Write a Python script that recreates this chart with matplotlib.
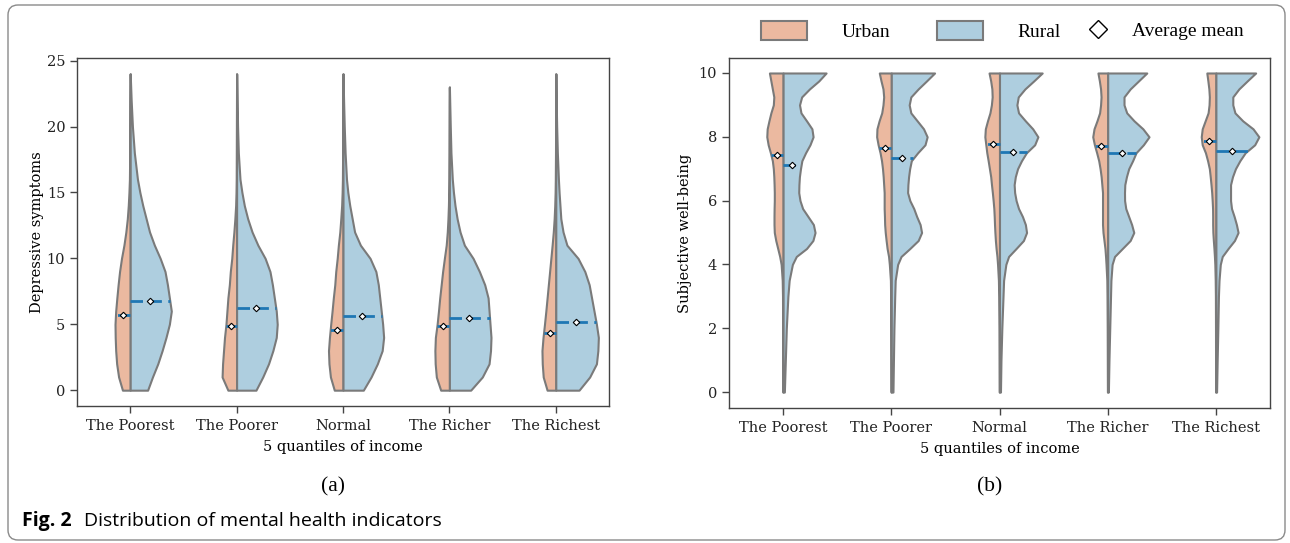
import numpy as np
import matplotlib.pyplot as plt
from matplotlib.patches import Patch, FancyBboxPatch
from matplotlib.lines import Line2D

groups = ['The Poorest', 'The Poorer', 'Normal', 'The Richer', 'The Richest']

# (a) depressive symptoms - relative density of each half at these levels
dep_levels = [0, 1, 2, 3, 4, 5, 6, 7, 8, 9, 10, 11, 12, 13, 14, 15, 16, 18, 20, 22, 24]
dep_top = [24, 24, 24, 23, 24]
dep_urban = [
    [8, 12, 14, 15, 15.5, 15.7, 15, 13.8, 12.5, 11, 9, 6.5, 4.5, 3, 2, 1.3, 0.8, 0.5, 0.3, 0.2, 0],
    [9, 15, 14.5, 13.5, 12.5, 11, 10, 9, 7.5, 6.5, 5, 4, 2.8, 1.8, 1, 0.6, 0.4, 0.3, 0.2, 0.1, 0],
    [9, 13, 14.5, 15, 14, 12.7, 11.3, 10, 8.5, 7.5, 6, 4.8, 3.3, 2.3, 1.4, 0.9, 0.6, 0.4, 0.3, 0.2, 0],
    [9, 13.5, 14.7, 15, 14.5, 12.7, 11.3, 10, 8.5, 7, 5.2, 3.3, 2.2, 1.5, 1, 0.7, 0.5, 0.3, 0.2, 0.1, 0],
    [9, 13, 14, 14.3, 13.2, 11.7, 10.3, 9, 7.7, 6.4, 5.1, 3.8, 2.6, 1.7, 1.1, 0.7, 0.5, 0.3, 0.2, 0.1, 0],
]
dep_rural = [
    [18, 23, 28.5, 33, 37, 40.5, 42.5, 40.5, 38.5, 36, 31, 25, 20, 16.5, 13, 10, 7.5, 4.3, 2.3, 1, 0],
    [20, 27, 33, 37.5, 41, 42, 41, 39, 37, 34.5, 29.5, 22, 16, 11.5, 8, 5.5, 3.5, 1.8, 1, 0.5, 0],
    [21, 29, 35.5, 40.5, 42, 41, 39.5, 38, 36.5, 34, 28, 18, 12, 9.5, 7, 5, 3.6, 2.2, 1.3, 0.6, 0],
    [22, 34, 41, 42.5, 43, 42, 41, 40, 36.5, 31, 24.5, 15.5, 11, 8, 5.8, 4.2, 3, 1.6, 0.9, 0.3, 0],
    [24, 35, 42, 43.5, 44, 42, 39.5, 37, 34.5, 30, 23, 11.5, 7.5, 5.2, 4.3, 3.4, 2.7, 1.6, 0.9, 0.4, 0],
]
dep_urban_mean = [5.7, 4.9, 4.6, 4.85, 4.35]
dep_rural_mean = [6.8, 6.2, 5.6, 5.5, 5.15]

# (b) subjective well-being
swb_levels = [0, 1, 2, 3, 3.5, 4, 4.25, 4.5, 4.75, 5, 5.25, 5.5, 5.75, 6, 6.25, 6.5, 6.75, 7,
              7.25, 7.5, 7.75, 8, 8.25, 8.5, 8.75, 9, 9.25, 9.5, 9.75, 10]
swb_urban = [
    [0.3, 0.4, 0.5, 0.6, 0.9, 2, 3.5, 5.5, 7.5, 9, 9.3, 9.3, 9.2, 9, 9, 9.2, 9.5, 10,
     11, 13, 15.3, 16.7, 16.3, 14.5, 12.5, 10, 9.5, 11, 12.5, 14],
    [0.3, 0.4, 0.5, 0.7, 0.9, 2, 2.8, 4.3, 5.3, 6.2, 6.8, 7, 7.3, 7.3, 7.3, 7.8, 8.3, 9,
     10, 11.5, 13.5, 15, 14.7, 12.5, 9.8, 8.5, 7.8, 8.5, 10.5, 12.3],
    [0.3, 0.4, 0.5, 0.8, 1.1, 2, 2.6, 3.5, 4.2, 4.7, 5.1, 5.4, 5.8, 6.5, 7.3, 8.2, 9, 10.3,
     11.6, 13, 14, 15, 14.5, 12.3, 9.8, 8.3, 7.5, 7.8, 9, 10.7],
    [0.3, 0.4, 0.5, 0.7, 0.9, 1.7, 2.2, 2.8, 3.8, 4.8, 5.3, 5.3, 5.3, 5.3, 5.3, 6, 6.7, 7.8,
     9.2, 11.3, 13.6, 15.3, 14, 11, 8.3, 7.3, 6.8, 7.3, 8.5, 10],
    [0.3, 0.35, 0.4, 0.5, 0.7, 1.1, 1.5, 2, 2.6, 3.1, 3.3, 3.3, 3.4, 3.8, 4.3, 5, 5.8, 6.7,
     8.5, 10.7, 14, 15, 14, 11, 8, 7, 6.7, 7.2, 8.2, 9.3],
]
swb_rural = [
    [1.3, 2.3, 3.3, 4.9, 6.2, 9.5, 13.5, 24, 30.5, 32.7, 31, 25.5, 20, 17.3, 16, 16.2, 16.7, 17.8,
     19.2, 23, 27.5, 30.7, 29.5, 24, 18.3, 16.8, 19, 27, 36.5, 44],
    [1.7, 2.2, 2.7, 3.5, 4, 6.5, 10, 19, 27.5, 31, 29.5, 26, 23, 19, 16.7, 17, 17.7, 18.8,
     20.5, 27, 34.5, 36.7, 33, 26.5, 20, 18.3, 20, 27.5, 36, 44.3],
    [1, 1.5, 2.4, 3.6, 4.2, 6.5, 9.3, 17, 24.5, 27.7, 26.5, 23.5, 19.5, 17, 15.5, 15, 16.2, 18.5,
     22.5, 27.5, 36, 39.3, 34, 26.5, 19.5, 17.8, 19.2, 26, 35, 43.7],
    [0.7, 1.3, 2.1, 2.9, 3.3, 4.5, 7, 15, 23, 26.7, 24.5, 21.5, 18.5, 17.3, 17.2, 17.5, 19.2, 21.5,
     25.5, 29, 36.5, 42.3, 36, 27, 19.5, 16.7, 16.7, 23, 31.5, 40],
    [0.7, 1.3, 2, 2.6, 3.2, 4.5, 6.5, 12.5, 19, 22.7, 21, 18.7, 16, 15, 15, 15, 17, 20,
     24.5, 30, 39.7, 44, 38, 27.5, 19.5, 17.3, 17.3, 23.5, 32, 40.7],
]
swb_urban_mean = [7.43, 7.64, 7.76, 7.72, 7.87]
swb_rural_mean = [7.12, 7.33, 7.51, 7.50, 7.57]

urban_color = '#ebb9a0'
rural_color = '#aecedf'
edge_color = '#7a7a7a'
mean_color = '#1f77b4'
serif = 'DejaVu Serif'


def draw_violins(ax, levels, tops, urban, rural, urban_mean, rural_mean):
    dmax = max(np.max(urban), np.max(rural))
    scale = 0.4 / dmax
    for i in range(len(groups)):
        y = np.array(levels, dtype=float)
        if tops is not None:
            y[-1] = tops[i]
        wu = np.array(urban[i]) * scale
        wr = np.array(rural[i]) * scale
        ax.fill_betweenx(y, i - wu, i, facecolor=urban_color, edgecolor=edge_color,
                         linewidth=1.5, zorder=2)
        ax.fill_betweenx(y, i, i + wr, facecolor=rural_color, edgecolor=edge_color,
                         linewidth=1.5, zorder=2)
        for m, w, sign in [(urban_mean[i], wu, -1), (rural_mean[i], wr, 1)]:
            hw = np.interp(m, y, w)
            ax.plot([i, i + sign * hw], [m, m], color=mean_color, linewidth=2,
                    linestyle=(0, (4.5, 2.3)), dash_capstyle='butt', zorder=3)
            ax.plot(i + sign * hw / 2, m, marker='D', markersize=3.3, markerfacecolor='white',
                    markeredgecolor='black', markeredgewidth=0.8, zorder=4)


def style_axes(ax, ylabel, ypad):
    ax.set_xticks(range(len(groups)))
    ax.set_xticklabels(groups, family=serif, fontsize=10.5)
    for lab in ax.get_yticklabels():
        lab.set_family(serif)
        lab.set_fontsize(10.5)
    ax.set_xlim(-0.5, 4.5)
    ax.set_xlabel('5 quantiles of income', family=serif, fontsize=10.5, labelpad=5)
    ax.set_ylabel(ylabel, family=serif, fontsize=10.5, labelpad=ypad)
    for s in ax.spines.values():
        s.set_color('#444444')
        s.set_linewidth(1.0)
    ax.tick_params(direction='out', length=5, width=1, color='#444444', labelcolor='#222222')
    ax.tick_params(axis='x', pad=4.5)


fig = plt.figure(figsize=(12.9, 5.43), dpi=100)
fig.patch.set_facecolor('white')

ax1 = fig.add_axes([77 / 1290, 0.2523, 532 / 1290, 0.6409])
draw_violins(ax1, dep_levels, dep_top, dep_urban, dep_rural, dep_urban_mean, dep_rural_mean)
ax1.set_ylim(-1.2, 25.2)
ax1.set_yticks([0, 5, 10, 15, 20, 25])
style_axes(ax1, 'Depressive symptoms', 2)

ax2 = fig.add_axes([729 / 1290, 0.2486, 541 / 1290, 0.6446])
draw_violins(ax2, swb_levels, None, swb_urban, swb_rural, swb_urban_mean, swb_rural_mean)
ax2.set_ylim(-0.5, 10.47)
ax2.set_yticks([0, 2, 4, 6, 8, 10])
style_axes(ax2, 'Subjective well-being', 5)

# legend above panel (b)
leg_font = {'family': 'Liberation Serif', 'size': 14}
patch_handles = [Patch(facecolor=urban_color, edgecolor=edge_color, linewidth=1.5),
                 Patch(facecolor=rural_color, edgecolor=edge_color, linewidth=1.5)]
fig.legend(patch_handles, ['Urban', 'Rural'], ncol=2, loc='center left',
           bbox_to_anchor=(761 / 1290, 1 - 31 / 543), frameon=False, prop=leg_font,
           borderpad=0, borderaxespad=0, handlelength=2.37, handleheight=1.08,
           handletextpad=1.8, columnspacing=2.37)
mean_handle = [Line2D([], [], linestyle='none', marker='D', markersize=9,
                      markerfacecolor='white', markeredgecolor='black', markeredgewidth=1)]
fig.legend(mean_handle, ['Average mean'], loc='center left',
           bbox_to_anchor=(1084 / 1290, 1 - 31 / 543), frameon=False, prop=leg_font,
           borderpad=0, borderaxespad=0, handlelength=1.4, handletextpad=1.05)

fig.text(333 / 1290, 1 - 487 / 543, '(a)', family='Liberation Serif', fontsize=15.5,
         ha='center', va='center')
fig.text(990 / 1290, 1 - 487 / 543, '(b)', family='Liberation Serif', fontsize=15.5,
         ha='center', va='center')

fig.text(22 / 1290, 1 - 521 / 543, 'Fig. 2', family='Open Sans', fontweight='bold',
         fontsize=14, ha='left', va='center')
fig.text(84 / 1290, 1 - 521 / 543, 'Distribution of mental health indicators',
         family='Open Sans', fontsize=14, ha='left', va='center')

fig.add_artist(FancyBboxPatch((0.08, 0.03), 12.77, 5.35, boxstyle='round,pad=0,rounding_size=0.1',
                              transform=fig.dpi_scale_trans, facecolor='none',
                              edgecolor='#8a8a8a', linewidth=1.0))

fig.savefig('out.png', dpi=100)
